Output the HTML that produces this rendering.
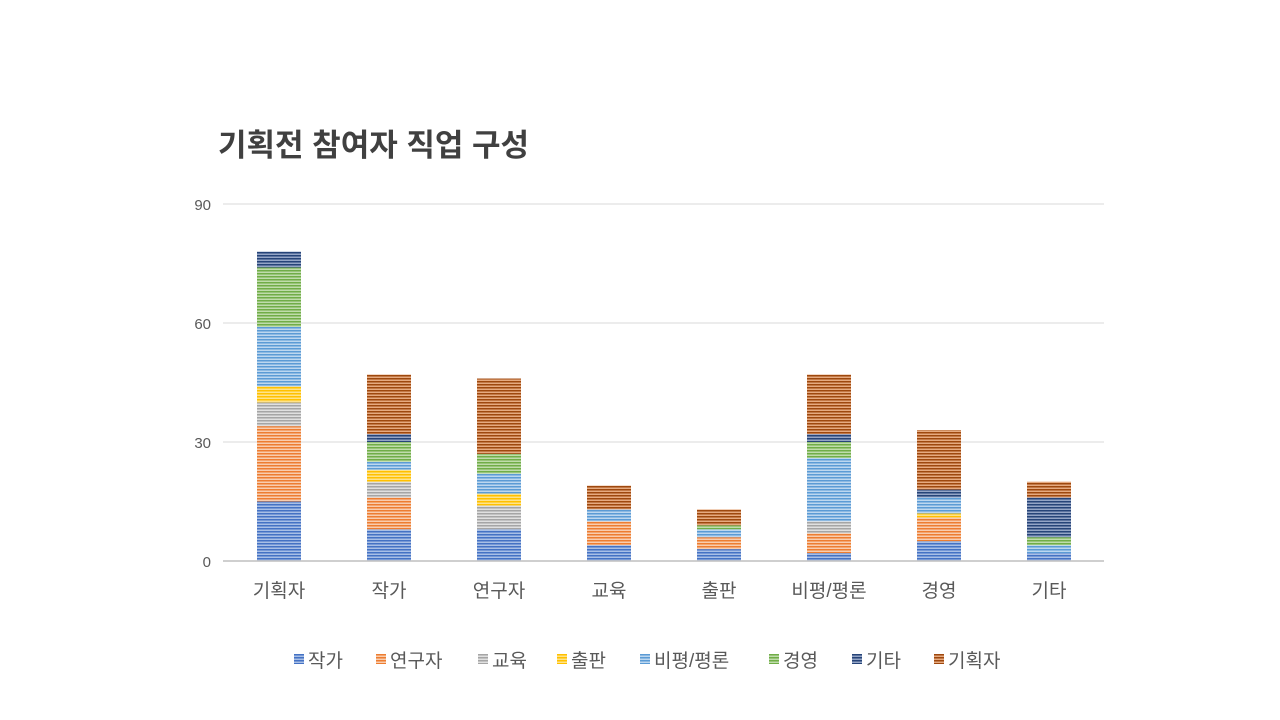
<!DOCTYPE html>
<html><head><meta charset="utf-8"><style>
body{margin:0;background:#fff;}
svg{display:block;font-family:"Liberation Sans","Noto Sans CJK KR",sans-serif;}
</style></head><body>
<svg id="s" width="1280" height="720" xmlns="http://www.w3.org/2000/svg">
<defs id="d"></defs>
<text x="218" y="156" font-size="31" font-weight="bold" fill="#404040">기획전 참여자 직업 구성</text>
<g id="g"></g>
</svg>
<script>
var ns="http://www.w3.org/2000/svg",s=document.getElementById('s'),d=document.getElementById('d'),g=document.getElementById('g');
function el(t,a,p,txt){var e=document.createElementNS(ns,t);for(var k in a)e.setAttribute(k,a[k]);if(txt!=null)e.textContent=txt;(p||g).appendChild(e);return e;}
var cols=[["#4472c4","#a8bfe6"],["#ed7d31","#f9cdae"],["#a5a5a5","#e0e0e0"],["#ffc000","#ffe38a"],["#5b9bd5","#bcd7f0"],["#70ad47","#bfdcab"],["#264478","#94a5c6"],["#9e480e","#e6aa80"]];
cols.forEach(function(c,i){var p=el('pattern',{id:'p'+i,width:4,height:3,patternUnits:'userSpaceOnUse'},d);el('rect',{width:4,height:3,fill:c[1]},p);el('rect',{width:4,height:1.5,fill:c[0]},p);});
var y0=561,k=(561-204)/90;
[0,30,60,90].forEach(function(v){var y=y0-v*k;if(v>0)el('line',{x1:223,x2:1104,y1:y,y2:y,stroke:'#d9d9d9','stroke-width':1});el('text',{x:211,y:y+6,'font-size':15,fill:'#595959','text-anchor':'end'},null,v);});
var cats=["기획자","작가","연구자","교육","출판","비평/평론","경영","기타"];
var data=[[15,19,6,4,15,15,4,0],[8,8,4,3,2,5,2,15],[8,0,6,3,5,5,0,19],[4,6,0,0,3,0,0,6],[3,3,0,0,2,1,0,4],[2,5,3,0,16,4,2,15],[5,6,0,1,4,0,2,15],[2,0,0,0,2,2,10,4]];
data.forEach(function(r,i){var cx=279+i*110,acc=0;r.forEach(function(v,j){if(!v)return;var ya=y0-acc*k,yb=y0-(acc+v)*k;el('rect',{x:cx-22,y:yb,width:44,height:ya-yb,fill:'url(#p'+j+')'});acc+=v;});
el('text',{x:cx,y:597,'font-size':19,fill:'#595959','text-anchor':'middle'},null,cats[i]);});
el('line',{x1:223,x2:1104,y1:561,y2:561,stroke:'#bfbfbf','stroke-width':1.5});
var leg=["작가","연구자","교육","출판","비평/평론","경영","기타","기획자"],lx=[294,376,478,557,640,769,852,934];
leg.forEach(function(t,i){el('rect',{x:lx[i],y:654,width:10,height:10,fill:'url(#p'+i+')'});el('text',{x:lx[i]+14,y:667,'font-size':19,fill:'#595959'},null,t);});
</script>
</body></html>
